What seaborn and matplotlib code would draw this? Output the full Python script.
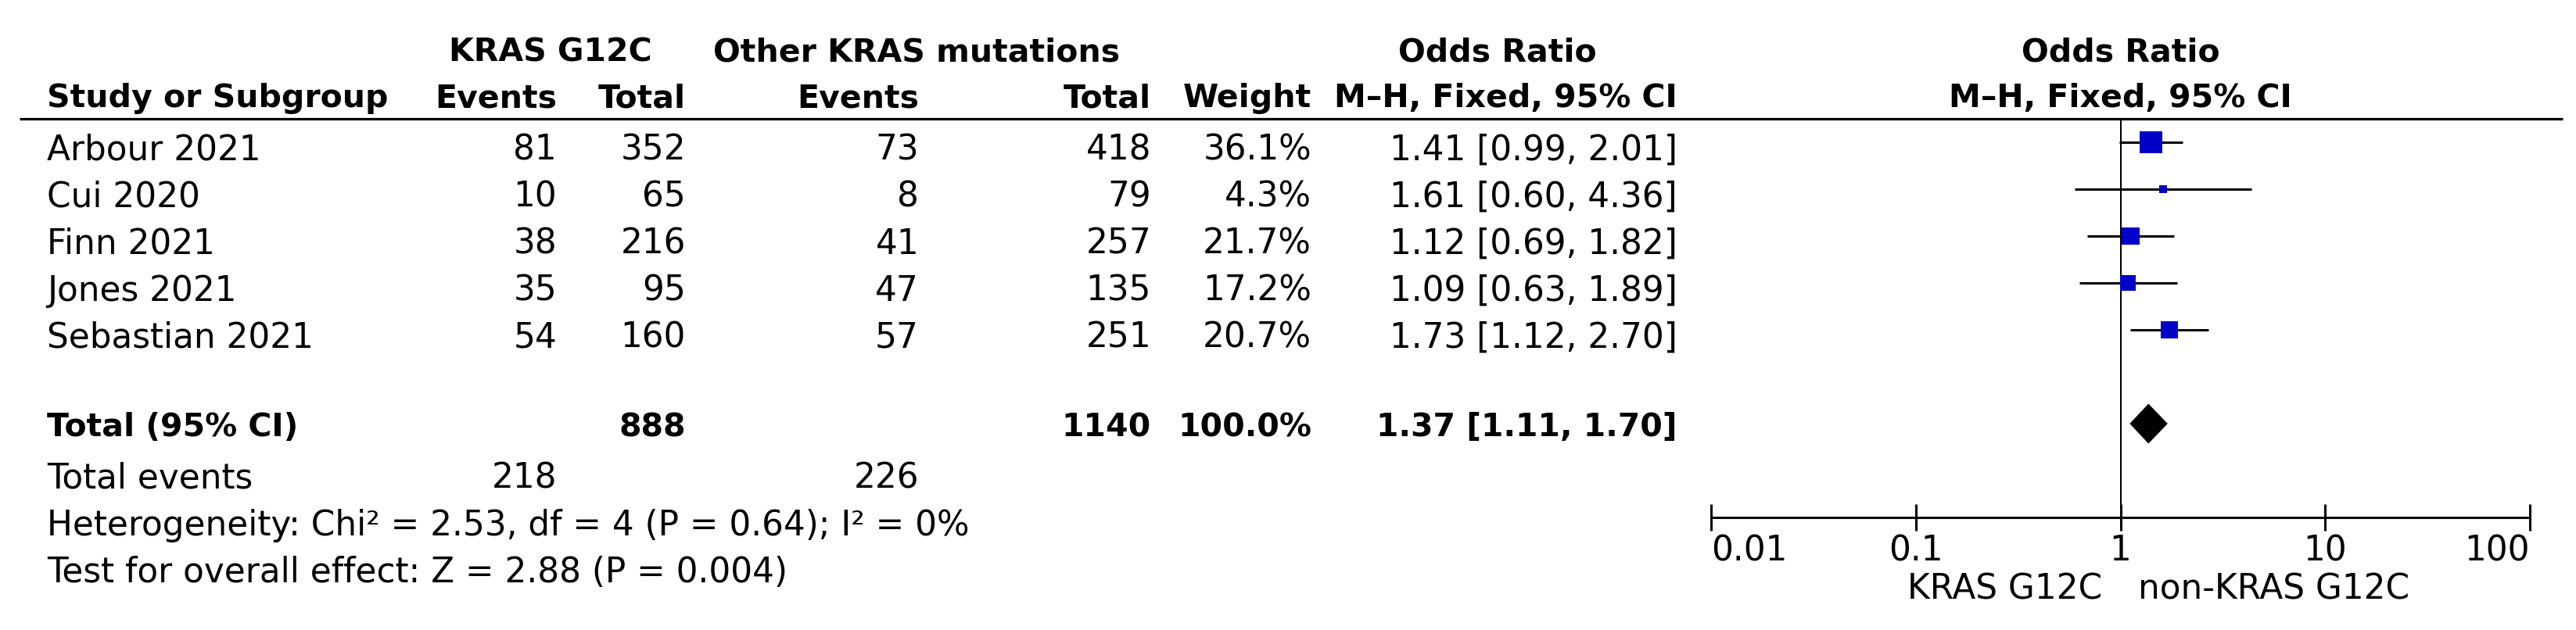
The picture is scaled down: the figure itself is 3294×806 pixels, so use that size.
import matplotlib
matplotlib.use("Agg")
import matplotlib.pyplot as plt
from matplotlib.ticker import NullLocator, FixedLocator, FixedFormatter
import seaborn as sns

# ---------------- data ----------------
studies = ["Arbour 2021", "Cui 2020", "Finn 2021", "Jones 2021", "Sebastian 2021"]
g12c_events = [81, 10, 38, 35, 54]
g12c_total = [352, 65, 216, 95, 160]
other_events = [73, 8, 41, 47, 57]
other_total = [418, 79, 257, 135, 251]
weights = [36.1, 4.3, 21.7, 17.2, 20.7]
odds_ratio = [1.41, 1.61, 1.12, 1.09, 1.73]
ci_low = [0.99, 0.60, 0.69, 0.63, 1.12]
ci_high = [2.01, 4.36, 1.82, 1.89, 2.70]

total_g12c = 888
total_other = 1140
total_events_g12c = 218
total_events_other = 226
total_weight = 100.0
pooled_or = 1.37
pooled_low = 1.11
pooled_high = 1.70

heterogeneity_text = "Heterogeneity: Chi\u00b2 = 2.53, df = 4 (P = 0.64); I\u00b2 = 0%"
overall_text = "Test for overall effect: Z = 2.88 (P = 0.004)"
x_ticks = [0.01, 0.1, 1, 10, 100]
x_tick_labels = ["0.01", "0.1", "1", "10", "100"]
favours_left = "KRAS G12C"
favours_right = "non-KRAS G12C"

# ---------------- style ----------------
sns.set_theme(style="white")
plt.rcParams["font.family"] = ["DejaVu Sans"]
plt.rcParams["text.color"] = "black"
plt.rcParams["xtick.color"] = "black"
plt.rcParams["axes.edgecolor"] = "black"

W, H = 3294, 806
ROW0, ROWH = 182, 60          # pixel y of first study row, row pitch
def row_of(py):
    return (py - ROW0) / ROWH
Y_TOP, Y_BOT = row_of(0), row_of(H)

REG = 31.5
BOLD = 29.5
PX = 0.72  # points per pixel at dpi 100

fig = plt.figure(figsize=(W / 100, H / 100), dpi=100)
fig.patch.set_facecolor("white")

# table axes in pixel x units / row y units
tab = fig.add_axes([0, 0, 1, 1])
tab.set_xlim(0, W)
tab.set_ylim(Y_BOT, Y_TOP)
tab.axis("off")

# forest axes
FX0, FX1 = 2188, 3235
ax = fig.add_axes([FX0 / W, 0, (FX1 - FX0) / W, 1])
ax.patch.set_alpha(0)

n = len(studies)
rows = list(range(n))
total_row = n + 1
axis_row = n + 3

# CI lines
ax.hlines(rows, ci_low, ci_high, color="black", lw=3 * PX, zorder=2)
# squares sized by weight
sns.scatterplot(x=odds_ratio, y=rows, size=weights, sizes=(0, 1194),
                size_norm=(0, 100), marker="s", color="#0000C8",
                linewidth=0, legend=False, ax=ax, zorder=3)
# diamond
dh = 0.425
ax.fill([pooled_low, pooled_or, pooled_high, pooled_or],
        [total_row, total_row - dh, total_row, total_row + dh],
        color="black", lw=0, zorder=3)
# line of no effect
ax.vlines(1, -0.5, axis_row, color="black", lw=2 * PX, zorder=1)

ax.set_xscale("log")
ax.set_xlim(x_ticks[0], x_ticks[-1])
ax.set_ylim(Y_BOT, Y_TOP)
ax.set_xlabel("")
ax.set_ylabel("")
for s in ["top", "left", "right"]:
    ax.spines[s].set_visible(False)
ax.spines["bottom"].set_position(("data", axis_row))
ax.spines["bottom"].set_linewidth(3 * PX)
ax.yaxis.set_major_locator(NullLocator())
ax.xaxis.set_minor_locator(NullLocator())
ax.xaxis.set_major_locator(FixedLocator(x_ticks))
ax.xaxis.set_major_formatter(FixedFormatter(x_tick_labels))
ax.tick_params(axis="x", which="major", direction="inout", length=34 * PX,
               width=3 * PX, pad=3, labelsize=REG, bottom=True)
tls = ax.get_xticklabels()
tls[0].set_ha("left")
tls[-1].set_ha("right")

# right headers
ax.text(1, -1.733, "Odds Ratio", ha="center", va="baseline",
        fontsize=BOLD, fontweight="bold")
ax.text(1, -0.75, "M\u2013H, Fixed, 95% CI", ha="center", va="baseline",
        fontsize=BOLD, fontweight="bold")
# favours labels
ax.annotate(favours_left, xy=(1, 9.75), xytext=(-23, 0), textcoords="offset pixels",
            ha="right", va="baseline", fontsize=REG)
ax.annotate(favours_right, xy=(1, 9.75), xytext=(23, 0), textcoords="offset pixels",
            ha="left", va="baseline", fontsize=REG)

# ---------------- table ----------------
X_STUDY = 60
X_EV1, X_TOT1, X_EV2, X_TOT2, X_WT, X_CI = 712, 877, 1175, 1472, 1677, 2145

def t(x, y, s, ha="right", bold=False):
    tab.text(x, y, s, ha=ha, va="baseline",
             fontsize=BOLD if bold else REG,
             fontweight="bold" if bold else "normal")

h1, h2 = -1.733, -0.75
t(704, h1, "KRAS G12C", ha="center", bold=True)
t(1172, h1, "Other KRAS mutations", ha="center", bold=True)
t(1915, h1, "Odds Ratio", ha="center", bold=True)
t(X_STUDY, h2, "Study or Subgroup", ha="left", bold=True)
t(X_EV1, h2, "Events", bold=True)
t(X_TOT1, h2, "Total", bold=True)
t(X_EV2, h2, "Events", bold=True)
t(X_TOT2, h2, "Total", bold=True)
t(X_WT, h2, "Weight", bold=True)
t(X_CI, h2, "M\u2013H, Fixed, 95% CI", bold=True)

tab.hlines(-0.5, 25, 3277, color="black", lw=3.2 * PX)

for i in rows:
    y = i + 0.383
    t(X_STUDY, y, studies[i], ha="left")
    t(X_EV1, y, f"{g12c_events[i]}")
    t(X_TOT1, y, f"{g12c_total[i]}")
    t(X_EV2, y, f"{other_events[i]}")
    t(X_TOT2, y, f"{other_total[i]}")
    t(X_WT, y, f"{weights[i]:.1f}%")
    t(X_CI, y, f"{odds_ratio[i]:.2f} [{ci_low[i]:.2f}, {ci_high[i]:.2f}]")

yt = total_row + 0.27
t(X_STUDY, yt, "Total (95% CI)", ha="left", bold=True)
t(X_TOT1, yt, f"{total_g12c}", bold=True)
t(X_TOT2, yt, f"{total_other}", bold=True)
t(X_WT, yt, f"{total_weight:.1f}%", bold=True)
t(X_CI, yt, f"{pooled_or:.2f} [{pooled_low:.2f}, {pooled_high:.2f}]", bold=True)

ye = total_row + 1.383
t(X_STUDY, ye, "Total events", ha="left")
t(X_EV1, ye, f"{total_events_g12c}")
t(X_EV2, ye, f"{total_events_other}")
t(X_STUDY, total_row + 2.383, heterogeneity_text, ha="left")
t(X_STUDY, total_row + 3.383, overall_text, ha="left")

fig.savefig("out.png", dpi=100, facecolor="white")
